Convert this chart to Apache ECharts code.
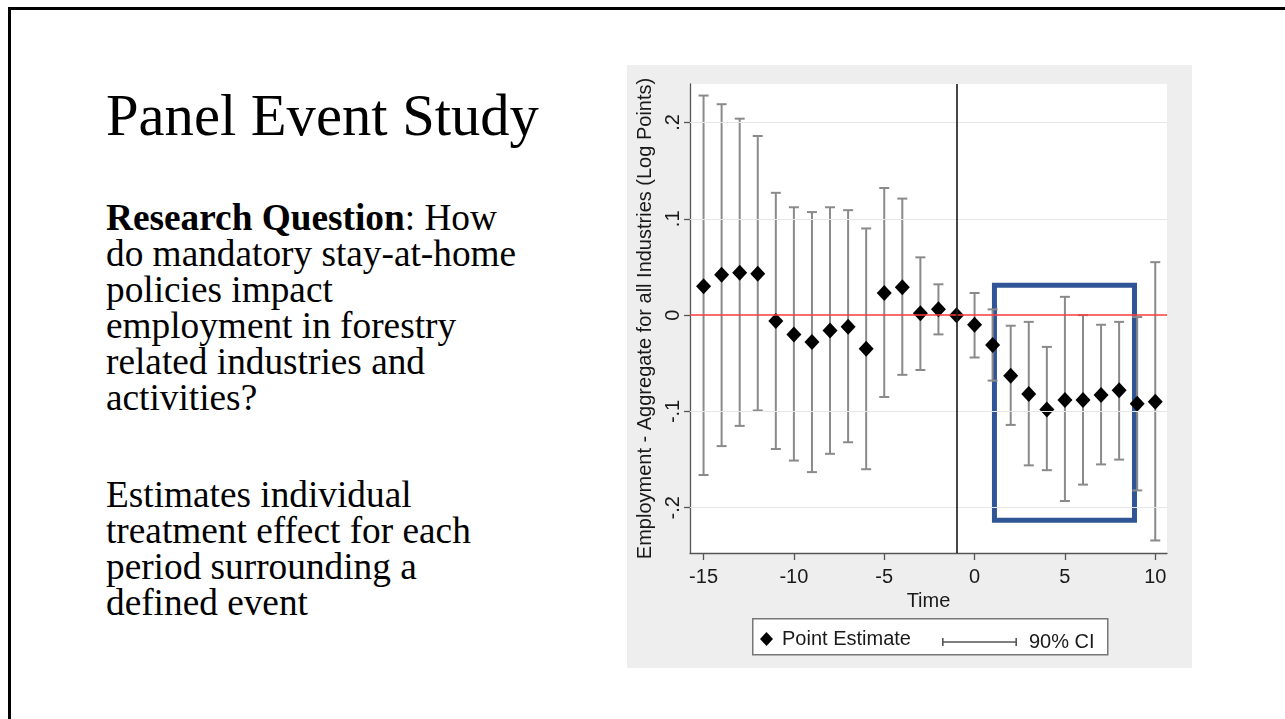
<!DOCTYPE html>
<html>
<head>
<meta charset="utf-8">
<script src="https://cdn.jsdelivr.net/npm/echarts@6/dist/echarts.min.js"></script>
<style>
  html, body { margin: 0; padding: 0; background: #fff; width: 1285px; height: 719px; overflow: hidden; }
  #frame { position: absolute; left: 8px; top: 7px; width: 1300px; height: 730px; border-top: 3px solid #000; border-left: 3px solid #000; }
  .serif { position: absolute; font-family: "Liberation Serif", "Times New Roman", serif; color: #000; white-space: nowrap; }
  #title { left: 106px; top: 86px; font-size: 58.6px; line-height: 59px; }
  #p1 { left: 106px; top: 200px; font-size: 37.3px; line-height: 36px; }
  #p2 { left: 106px; top: 477px; font-size: 37.3px; line-height: 36px; }
  #chart { position: absolute; left: 627px; top: 65px; width: 565px; height: 603px; }
</style>
</head>
<body>
<div id="frame"></div>
<div id="title" class="serif">Panel Event Study</div>
<div id="p1" class="serif"><b>Research Question</b>: How<br>do mandatory stay-at-home<br>policies impact<br>employment in forestry<br>related industries and<br>activities?</div>
<div id="p2" class="serif">Estimates individual<br>treatment effect for each<br>period surrounding a<br>defined event</div>
<div id="chart"></div>
<script>
// ---- data ----
const times   = [-15,-14,-13,-12,-11,-10,-9,-8,-7,-6,-5,-4,-3,-2,-1,0,1,2,3,4,5,6,7,8,9,10];
const est     = [0.030,0.042,0.044,0.043,-0.006,-0.020,-0.028,-0.016,-0.012,-0.035,0.023,0.029,0.002,0.006,0.000,-0.010,-0.031,-0.063,-0.082,-0.098,-0.088,-0.088,-0.083,-0.078,-0.092,-0.090];
const ciLow   = [-0.166,-0.136,-0.115,-0.099,-0.139,-0.151,-0.163,-0.144,-0.132,-0.160,-0.085,-0.062,-0.057,-0.020,null,-0.044,-0.068,-0.114,-0.156,-0.161,-0.193,-0.176,-0.155,-0.150,-0.182,-0.234];
const ciHigh  = [0.228,0.219,0.204,0.186,0.127,0.112,0.107,0.112,0.109,0.090,0.132,0.121,0.060,0.032,null,0.023,0.006,-0.011,-0.007,-0.033,0.019,0.000,-0.010,-0.007,-0.002,0.055];
const xTicks  = [-15,-10,-5,0,5,10];
const yTicks  = [-0.2,-0.1,0,0.1,0.2];
const yTickLabels = ['-.2','-.1','0','.1','.2'];
const yGrid   = [-0.2,-0.1,0.1,0.2];
const eventTime = -1;
const boxX = [1.1, 8.85];
const boxY = [0.031, -0.213];
const xAxisTitle = 'Time';
const yAxisTitle = 'Employment - Aggregate for all Industries (Log Points)';
const legendNames = ['Point Estimate', '90% CI'];

const FONT = '"Liberation Sans", Arial, sans-serif';
const pointData = times.map((t, i) => [t, est[i]]);
const ciData = [];
times.forEach((t, i) => { if (ciLow[i] != null) ciData.push([t, ciLow[i], ciHigh[i]]); });

const chart = echarts.init(document.getElementById('chart'), null, { renderer: 'canvas' });
chart.setOption({
  animation: false,
  backgroundColor: '#eeeeee',
  textStyle: { fontFamily: FONT },
  grid: { left: 63, top: 19, width: 477, height: 469, show: true, backgroundColor: '#ffffff', borderWidth: 0, containLabel: false },
  xAxis: {
    type: 'value', min: -15.75, max: 10.65,
    name: xAxisTitle, nameLocation: 'middle', nameGap: 28,
    nameTextStyle: { fontSize: 20, color: '#1a1a1a', fontFamily: FONT },
    axisLine: { show: true, onZero: false, lineStyle: { color: '#555', width: 1.3 } },
    axisTick: { show: true, customValues: xTicks, length: 7, lineStyle: { color: '#555', width: 1.3 } },
    axisLabel: { customValues: xTicks, fontSize: 20, color: '#1a1a1a', margin: 14, fontFamily: FONT },
    splitLine: { show: false }
  },
  yAxis: {
    type: 'value', min: -0.247, max: 0.240,
    name: yAxisTitle, nameLocation: 'middle', nameGap: 31,
    nameTextStyle: { fontSize: 20, color: '#1a1a1a', fontFamily: FONT },
    axisLine: { show: true, onZero: false, lineStyle: { color: '#555', width: 1.3 } },
    axisTick: { show: true, customValues: yTicks, length: 6, lineStyle: { color: '#555', width: 1.3 } },
    axisLabel: {
      customValues: yTicks, rotate: 90, fontSize: 20, color: '#1a1a1a', margin: 7, fontFamily: FONT,
      formatter: v => { const k = yTicks.findIndex(t => Math.abs(t - v) < 1e-9); return k >= 0 ? yTickLabels[k] : ''; }
    },
    splitLine: { show: false }
  },
  legend: [
    { data: [{ name: legendNames[0], icon: 'diamond', itemStyle: { color: '#000' } }],
      left: 133, top: 564, padding: 0, itemWidth: 13, itemHeight: 14, selectedMode: false,
      textStyle: { fontSize: 20, color: '#1a1a1a', fontFamily: FONT, padding: [0, 0, 0, 4] } },
    { data: [{ name: legendNames[1], icon: 'path://M0,0h1.6v8h-1.6z M1.6,3.3h71.8v1.4h-71.8z M73.4,0h1.6v8h-1.6z', itemStyle: { color: '#555' } }],
      left: 315, top: 567, padding: 0, itemWidth: 75, itemHeight: 8, selectedMode: false,
      textStyle: { fontSize: 20, color: '#1a1a1a', fontFamily: FONT, padding: [0, 0, 0, 7] } }
  ],
  graphic: [
    { type: 'rect', left: 125, top: 553, shape: { width: 355, height: 36 }, style: { fill: '#fff', stroke: '#777', lineWidth: 1.5 }, z: 0, silent: true }
  ],
  series: [
    { name: 'grid', type: 'line', data: [], z: 1, silent: true,
      markLine: { silent: true, symbol: ['none', 'none'], label: { show: false },
        lineStyle: { color: '#e6e6e6', width: 1.2, type: 'solid' },
        data: yGrid.map(v => ({ yAxis: v })) } },
    { name: legendNames[1], type: 'custom', data: ciData, z: 2, encode: { x: 0, y: [1, 2] },
      itemStyle: { color: '#666' },
      renderItem: (params, api) => {
        const x = api.value(0);
        const lo = api.coord([x, api.value(1)]);
        const hi = api.coord([x, api.value(2)]);
        const hw = 5;
        const st = { stroke: '#8a8a8a', lineWidth: 2 };
        return { type: 'group', children: [
          { type: 'line', shape: { x1: lo[0], y1: lo[1], x2: hi[0], y2: hi[1] }, style: st },
          { type: 'line', shape: { x1: lo[0] - hw, y1: lo[1], x2: lo[0] + hw, y2: lo[1] }, style: st },
          { type: 'line', shape: { x1: hi[0] - hw, y1: hi[1], x2: hi[0] + hw, y2: hi[1] }, style: st }
        ] };
      } },
    { name: 'refs', type: 'line', data: [], z: 3, silent: true,
      markLine: { silent: true, symbol: ['none', 'none'], label: { show: false },
        data: [
          { yAxis: 0, lineStyle: { color: '#ff3b3b', width: 1.6, type: 'solid' } },
          { xAxis: eventTime, lineStyle: { color: '#1a1a1a', width: 1.6, type: 'solid' } }
        ] } },
    { name: legendNames[0], type: 'scatter', data: pointData, z: 4, symbol: 'diamond', symbolSize: [15, 16],
      itemStyle: { color: '#000', opacity: 1 } },
    { name: 'box', type: 'line', data: [], z: 5, silent: true,
      markArea: { silent: true, label: { show: false },
        itemStyle: { color: 'rgba(0,0,0,0)', borderColor: '#2f5597', borderWidth: 5 },
        data: [[{ coord: [boxX[0], boxY[0]] }, { coord: [boxX[1], boxY[1]] }]] } }
  ]
});
</script>
</body>
</html>
